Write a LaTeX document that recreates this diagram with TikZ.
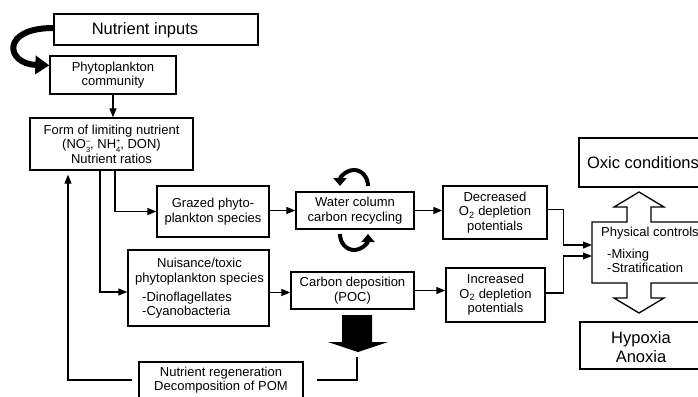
\documentclass[tikz,border=0pt]{standalone}
\usepackage{fontspec}
\setmainfont{Liberation Sans}
\usetikzlibrary{arrows.meta,calc}
\newcommand\ionsx[2]{\rlap{\raisebox{5pt}{\fontsize{7.5}{7.5}\selectfont #2}}\raisebox{-3.5pt}{\fontsize{7.5}{7.5}\selectfont #1}}
\begin{document}
\begin{tikzpicture}[x=1pt,y=-1pt,
  box/.style={draw, line width=1.3pt, rectangle, inner sep=0pt, align=center, font=\fontsize{13}{14.5}\selectfont},
  txt/.style={inner sep=0pt, align=center, font=\fontsize{13}{14.5}\selectfont},
  bigtxt/.style={inner sep=0pt, align=center, font=\fontsize{16.5}{19}\selectfont},
  conn/.style={line width=1.1pt, -{Triangle[length=9pt,width=7pt]}},
  plain/.style={line width=1.1pt},
  recyc/.style={line width=4pt, -{Triangle[length=8pt,width=13pt]}},
  ]
\useasboundingbox (0,0) rectangle (698,396);
\clip (0,0) rectangle (698,396);
% boxes
\node[box, minimum width=204pt, minimum height=31pt] (inputs) at (156,29.5) {};
\node[bigtxt] (inputsT) at (145,30) {Nutrient inputs};
\node[box, minimum width=126pt, minimum height=38pt] (phyto) at (113,75) {Phytoplankton\\community};
\node[box, minimum width=163pt, minimum height=52pt] (form) at (111.5,144) {Form of limiting nutrient\\(NO\ionsx{3}{--}, NH\ionsx{4}{+}, DON)\\Nutrient ratios};
\node[box, minimum width=112pt, minimum height=51pt] (grazed) at (213,211.5) {Grazed phyto-\\plankton species};
\node[box, minimum width=118pt, minimum height=37pt] (water) at (355,210.5) {Water column\\carbon recycling};
\node[box, minimum width=104pt, minimum height=53pt] (dec) at (495,212.5) {Decreased\\O\textsubscript{2} depletion\\potentials};
\node[box, minimum width=141pt, minimum height=76pt] (nuis) at (198.5,288) {};
\node[txt] (nuisT1) at (199.5,271.5) {Nuisance/toxic\\phytoplankton species};
\node[txt, anchor=west, align=left] (nuisT2) at (142,305) {-Dinoflagellates\\-Cyanobacteria};
\node[box, minimum width=123pt, minimum height=37pt] (carbon) at (352.5,290.5) {Carbon deposition\\(POC)};
\node[box, minimum width=99pt, minimum height=54pt] (inc) at (495.5,295) {Increased\\O\textsubscript{2} depletion\\potentials};
\node[box, minimum width=128pt, minimum height=49pt] (oxic) at (643,162.5) {};
\node[bigtxt] (oxicT) at (643,163) {Oxic conditions};
\node[box, minimum width=122pt, minimum height=47pt] (hyp) at (641,345.5) {};
\node[bigtxt] (hypT) at (641,347) {Hypoxia\\Anoxia};
\node[box, minimum width=164pt, minimum height=36pt] (regen) at (221,380) {Nutrient regeneration\\Decomposition of POM};
% physical controls double arrow
\draw[line width=1.3pt, fill=white] (639,192) -- (664,207) -- (651,207) -- (651,222) -- (720,222) -- (720,283) -- (651,283) -- (651,298) -- (664,298) -- (639,313) -- (614,298) -- (627,298) -- (627,283) -- (592,283) -- (592,222) -- (627,222) -- (627,207) -- (614,207) -- cycle;
\node[txt, anchor=west] (phT1) at (601,233) {Physical controls};
\node[txt, anchor=west, align=left] (phT2) at (607,261) {-Mixing\\-Stratification};
\coordinate (pc1) at (592,245);
\coordinate (pc2) at (592,256);
% big black arrow
\fill (342,315) -- (372,315) -- (372,342) -- (388,342) -- (358,352) -- (328,342) -- (342,342) -- cycle;
\coordinate (bigtip) at (357,352);
% connectors
\draw[line width=6pt, -{Triangle[length=14pt,width=18pt]}] ([yshift=1.5pt]inputs.west) .. controls (0,28) and (6,64) .. ([yshift=-10pt]phyto.north west);
\draw[conn] (phyto.south) -- (phyto.south |- form.north);
\draw[conn] ([xshift=3.5pt]form.south) |- (grazed.west);
\draw[conn] ([xshift=-11.5pt]form.south) |- ([yshift=-4pt]nuis.west);
\draw[conn] (water.west -| grazed.east) -- (water.west);
\draw[conn] (water.east) -- (water.east -| dec.west);
\draw[conn] ([yshift=-2pt]nuis.east |- carbon.west) -- ([yshift=-2pt]carbon.west);
\draw[conn] (carbon.east) -- (carbon.east -| inc.west);
\draw[conn] ([yshift=3pt]dec.east) -- ++(16,0) |- (pc1);
\draw[conn] ([yshift=2pt]inc.east) -- ++(18,0) |- (pc2);
\draw[conn] ([xshift=-6pt]regen.west) -| ([xshift=-43.5pt,yshift=-4pt]form.south);
\draw[plain] ([yshift=-5pt]bigtip) |- ([xshift=13pt]regen.east);
% recycling arcs
\draw[recyc] (368,186) arc[start angle=0, end angle=-180, x radius=14, y radius=16];
\draw[recyc] (340,234) arc[start angle=180, end angle=0, x radius=14, y radius=16];
\end{tikzpicture}
\end{document}
